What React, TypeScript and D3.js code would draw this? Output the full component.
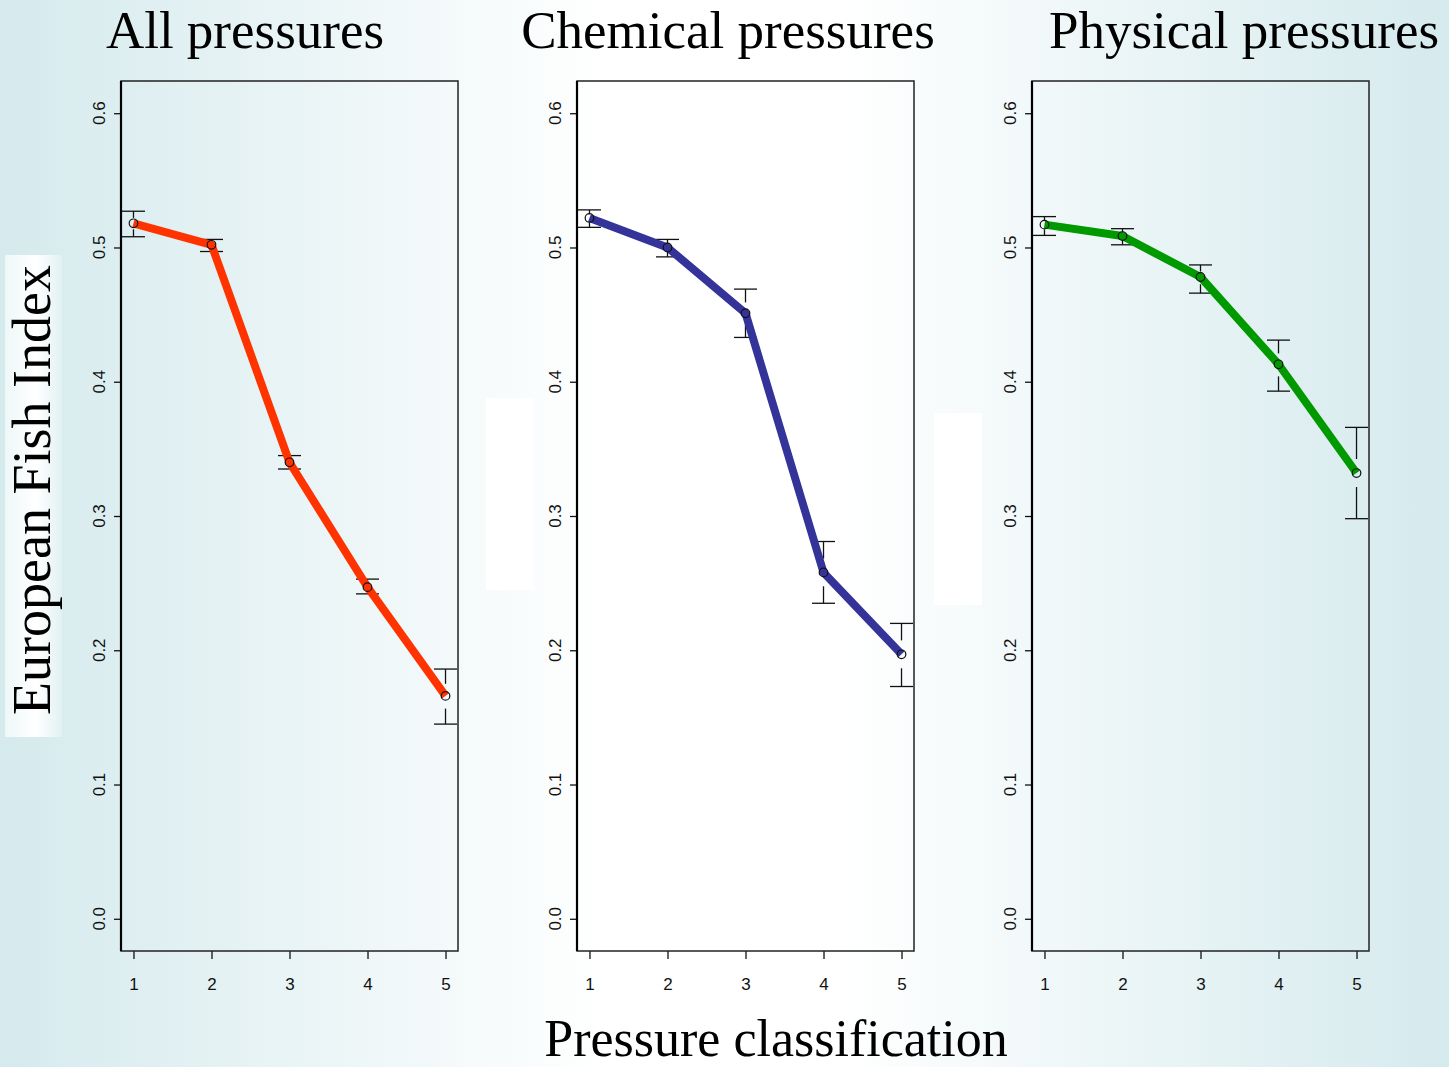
import React, { useEffect, useRef } from 'react';
import * as d3 from 'd3';

// pressure classes on the x axis
const classes = [1, 2, 3, 4, 5];
const yTicks = [0, 0.1, 0.2, 0.3, 0.4, 0.5, 0.6];

const panelTitles = ['All pressures', 'Chemical pressures', 'Physical pressures'];
const panelColors = ['#ff3300', '#333399', '#009900'];

// mean EFI per class, with lower / upper confidence limits
const allMean = [0.518, 0.502, 0.340, 0.247, 0.166];
const allLower = [0.508, 0.497, 0.335, 0.242, 0.145];
const allUpper = [0.527, 0.506, 0.345, 0.253, 0.186];

const chemMean = [0.522, 0.500, 0.451, 0.258, 0.197];
const chemLower = [0.515, 0.493, 0.433, 0.235, 0.173];
const chemUpper = [0.528, 0.506, 0.469, 0.281, 0.220];

const physMean = [0.517, 0.5085, 0.478, 0.413, 0.332];
const physLower = [0.509, 0.502, 0.466, 0.393, 0.298];
const physUpper = [0.523, 0.514, 0.487, 0.431, 0.366];

const W = 1449;
const H = 1067;

const App: React.FC = () => {
  const svgRef = useRef<SVGSVGElement>(null);

  useEffect(() => {
    if (!svgRef.current) return;
    const svg = d3.select(svgRef.current);
    svg.selectAll('*').remove();

    const defs = svg.append('defs');
    const bg = defs.append('linearGradient').attr('id', 'bg').attr('x1', '0%').attr('x2', '100%');
    bg.append('stop').attr('offset', '0%').attr('stop-color', '#d5eaed');
    bg.append('stop').attr('offset', '42%').attr('stop-color', '#ffffff');
    bg.append('stop').attr('offset', '58%').attr('stop-color', '#ffffff');
    bg.append('stop').attr('offset', '100%').attr('stop-color', '#d5eaed');

    const lab = defs.append('linearGradient').attr('id', 'labbg').attr('x1', '0%').attr('x2', '100%');
    lab.append('stop').attr('offset', '0%').attr('stop-color', '#eef7f8');
    lab.append('stop').attr('offset', '55%').attr('stop-color', '#ffffff');
    lab.append('stop').attr('offset', '100%').attr('stop-color', '#e2f1f2');

    svg.append('rect').attr('width', W).attr('height', H).attr('fill', 'url(#bg)');

    // stray white boxes between panels
    svg.append('rect').attr('x', 486).attr('y', 398).attr('width', 48).attr('height', 192).attr('fill', '#ffffff');
    svg.append('rect').attr('x', 934).attr('y', 413).attr('width', 48).attr('height', 192).attr('fill', '#ffffff');

    const series = [
      { mean: allMean, lo: allLower, hi: allUpper },
      { mean: chemMean, lo: chemLower, hi: chemUpper },
      { mean: physMean, lo: physLower, hi: physUpper },
    ];
    const panelLefts = [121, 577, 1032];
    const pw = 337;
    const top = 81;
    const bottom = 951;

    const y = d3.scaleLinear().domain([-0.024, 0.624]).range([bottom, top]);

    series.forEach((s, i) => {
      const left = panelLefts[i];
      const x = d3.scaleLinear().domain([0.84, 5.16]).range([left, left + pw]);
      const g = svg.append('g');

      const clipId = `clip${i}`;
      defs.append('clipPath').attr('id', clipId)
        .append('rect').attr('x', left).attr('y', top).attr('width', pw).attr('height', bottom - top);

      // axes
      const ya = g.append('g').attr('transform', `translate(${left},0)`)
        .call(d3.axisLeft(y).tickValues(yTicks).tickSize(7).tickFormat(d3.format('.1f')));
      ya.select('.domain').remove();
      ya.selectAll('line').attr('stroke', '#111').attr('stroke-width', 1.3);
      ya.selectAll('text').remove();
      g.selectAll('text.ytick').data(yTicks).enter().append('text')
        .attr('class', 'ytick')
        .attr('transform', (d) => `translate(${left - 16},${y(d)}) rotate(-90)`)
        .attr('text-anchor', 'middle')
        .attr('font-family', 'Liberation Sans, Arial, sans-serif')
        .attr('font-size', 17)
        .attr('fill', '#111')
        .text((d) => d3.format('.1f')(d));

      const xa = g.append('g').attr('transform', `translate(0,${bottom})`)
        .call(d3.axisBottom(x).tickValues(classes).tickSize(8).tickFormat(d3.format('d')));
      xa.select('.domain').remove();
      xa.selectAll('line').attr('stroke', '#111').attr('stroke-width', 1.3);
      xa.selectAll('text')
        .attr('font-family', 'Liberation Sans, Arial, sans-serif')
        .attr('font-size', 17)
        .attr('fill', '#111')
        .attr('dy', 0)
        .attr('y', 39);

      // box
      g.append('rect').attr('x', left).attr('y', top).attr('width', pw).attr('height', bottom - top)
        .attr('fill', 'none').attr('stroke', '#222').attr('stroke-width', 1.5);
      g.append('line').attr('x1', left).attr('x2', left).attr('y1', top).attr('y2', bottom)
        .attr('stroke', '#000').attr('stroke-width', 2.2);

      const plot = g.append('g').attr('clip-path', `url(#${clipId})`);

      // error bars with a gap round the point
      classes.forEach((c, k) => {
        const cx = x(c);
        const cy = y(s.mean[k]);
        const yHi = y(s.hi[k]);
        const yLo = y(s.lo[k]);
        const segs: [number, number][] = [];
        const dUp = cy - yHi;
        const gUp = Math.min(14, dUp * 0.45);
        segs.push([yHi, cy - gUp]);
        const dDn = yLo - cy;
        const gDn = Math.min(14, dDn * 0.45);
        segs.push([cy + gDn, yLo]);
        segs.forEach(([a, b]) => {
          plot.append('line').attr('x1', cx).attr('x2', cx).attr('y1', a).attr('y2', b)
            .attr('stroke', '#111').attr('stroke-width', 1.3);
        });
        [yHi, yLo].forEach((yy) => {
          plot.append('line').attr('x1', cx - 11.5).attr('x2', cx + 11.5).attr('y1', yy).attr('y2', yy)
            .attr('stroke', '#111').attr('stroke-width', 1.3);
        });
      });

      const line = d3.line<number>().x((_, k) => x(classes[k])).y((d) => y(d));
      plot.append('path').attr('d', line(s.mean) || '')
        .attr('fill', 'none').attr('stroke', panelColors[i]).attr('stroke-width', 8)
        .attr('stroke-linejoin', 'round');

      plot.selectAll('circle').data(s.mean).enter().append('circle')
        .attr('cx', (_, k) => x(classes[k]))
        .attr('cy', (d) => y(d))
        .attr('r', 4.3)
        .attr('fill', 'none')
        .attr('stroke', '#111')
        .attr('stroke-width', 1.2);
    });

    // titles
    const titleX = [245, 728, 1244];
    panelTitles.forEach((t, i) => {
      svg.append('text').attr('x', titleX[i]).attr('y', 48)
        .attr('text-anchor', 'middle')
        .attr('font-family', 'Liberation Serif, Times New Roman, serif')
        .attr('font-size', 53)
        .attr('fill', '#000')
        .text(t);
    });

    // y label with its light box
    svg.append('rect').attr('x', 5).attr('y', 255).attr('width', 57).attr('height', 482).attr('fill', 'url(#labbg)');
    svg.append('text')
      .attr('transform', 'translate(50,490) rotate(-90)')
      .attr('text-anchor', 'middle')
      .attr('font-family', 'Liberation Serif, Times New Roman, serif')
      .attr('font-size', 54)
      .attr('fill', '#000')
      .text('European Fish Index');

    svg.append('text').attr('x', 776).attr('y', 1056)
      .attr('text-anchor', 'middle')
      .attr('font-family', 'Liberation Serif, Times New Roman, serif')
      .attr('font-size', 52)
      .attr('fill', '#000')
      .text('Pressure classification');
  }, []);

  return (
    <svg ref={svgRef} width={W} height={H}
      style={{ position: 'absolute', left: 0, top: 0, display: 'block' }} />
  );
};

export default App;
